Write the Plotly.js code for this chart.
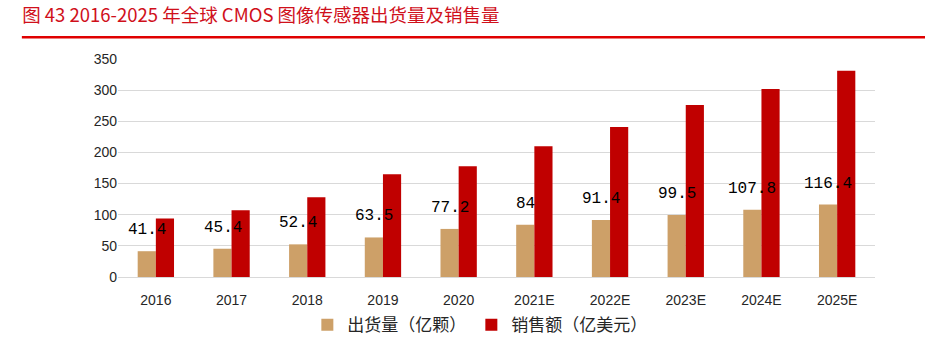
<!DOCTYPE html>
<html><head><meta charset="utf-8">
<script src="https://cdn.plot.ly/plotly-3.0.1.min.js"></script>
<style>html,body{margin:0;padding:0;background:#fff}</style>
</head><body>
<div id="chart" style="width:925px;height:338px"></div>
<script>
var categories = ["2016","2017","2018","2019","2020","2021E","2022E","2023E","2024E","2025E"];
var shipments = [41.4,45.4,52.4,63.5,77.2,84,91.4,99.5,107.8,116.4];
var sales = [94,107,128,165,178,210,241,276,302,331];
var shipmentLabels = ["41.4","45.4","52.4","63.5","77.2","84","91.4","99.5","107.8","116.4"];

var traces = [
  {type:"bar", name:"出货量（亿颗）", x:categories, y:shipments, marker:{color:"#cda068"}, hoverinfo:"y"},
  {type:"bar", name:"销售额（亿美元）", x:categories, y:sales, marker:{color:"#c00000"}, hoverinfo:"y"}
];

var annotations = categories.map(function(c,i){
  return {x:i, y:shipments[i], xref:"x", yref:"y", text:shipmentLabels[i], showarrow:false,
    xshift:-9, yshift:21, font:{family:"Liberation Mono, DejaVu Sans Mono, monospace", size:16, color:"#000"}};
});

var layout = {
  width:925, height:338,
  margin:{l:118, r:50, t:59, b:61},
  paper_bgcolor:"#fff", plot_bgcolor:"#fff",
  title:{text:"图 43 2016-2025 年全球 CMOS 图像传感器出货量及销售量", x:0.024, xanchor:"left", y:0.955, yanchor:"middle",
    font:{family:"Noto Sans CJK SC, sans-serif", size:18.5, color:"#d0101b"}},
  barmode:"group", bargap:0.52, bargroupgap:0,
  xaxis:{type:"category", categoryorder:"array", categoryarray:categories, range:[-0.5, categories.length-0.5],
    showgrid:false, zeroline:false, showline:false, ticks:"outside", ticklen:10, tickcolor:"rgba(0,0,0,0)",
    tickfont:{family:"Liberation Sans, Arial, sans-serif", size:14, color:"#262626"}},
  yaxis:{range:[0,350], dtick:50, tick0:0, showgrid:true, gridcolor:"#d9d9d9", gridwidth:1, zeroline:true, zerolinecolor:"#d9d9d9",
    showline:false, ticks:"", ticklen:0,
    tickfont:{family:"Liberation Sans, Arial, sans-serif", size:14, color:"#262626"}},
  showlegend:true,
  legend:{orientation:"h", x:0.478, xanchor:"center", xref:"paper", yref:"container", y:0.038, yanchor:"middle",
    font:{family:"Noto Sans CJK SC, sans-serif", size:17, color:"#262626"}, itemwidth:30, tracegroupgap:0},
  annotations:annotations,
  shapes:[{type:"line", xref:"paper", yref:"paper", x0:-0.127, x1:1.07, y0:1.10, y1:1.10,
    line:{color:"#e00000", width:2.5}}]
};

Plotly.newPlot("chart", traces, layout, {displayModeBar:false, staticPlot:true});
</script>
</body></html>
